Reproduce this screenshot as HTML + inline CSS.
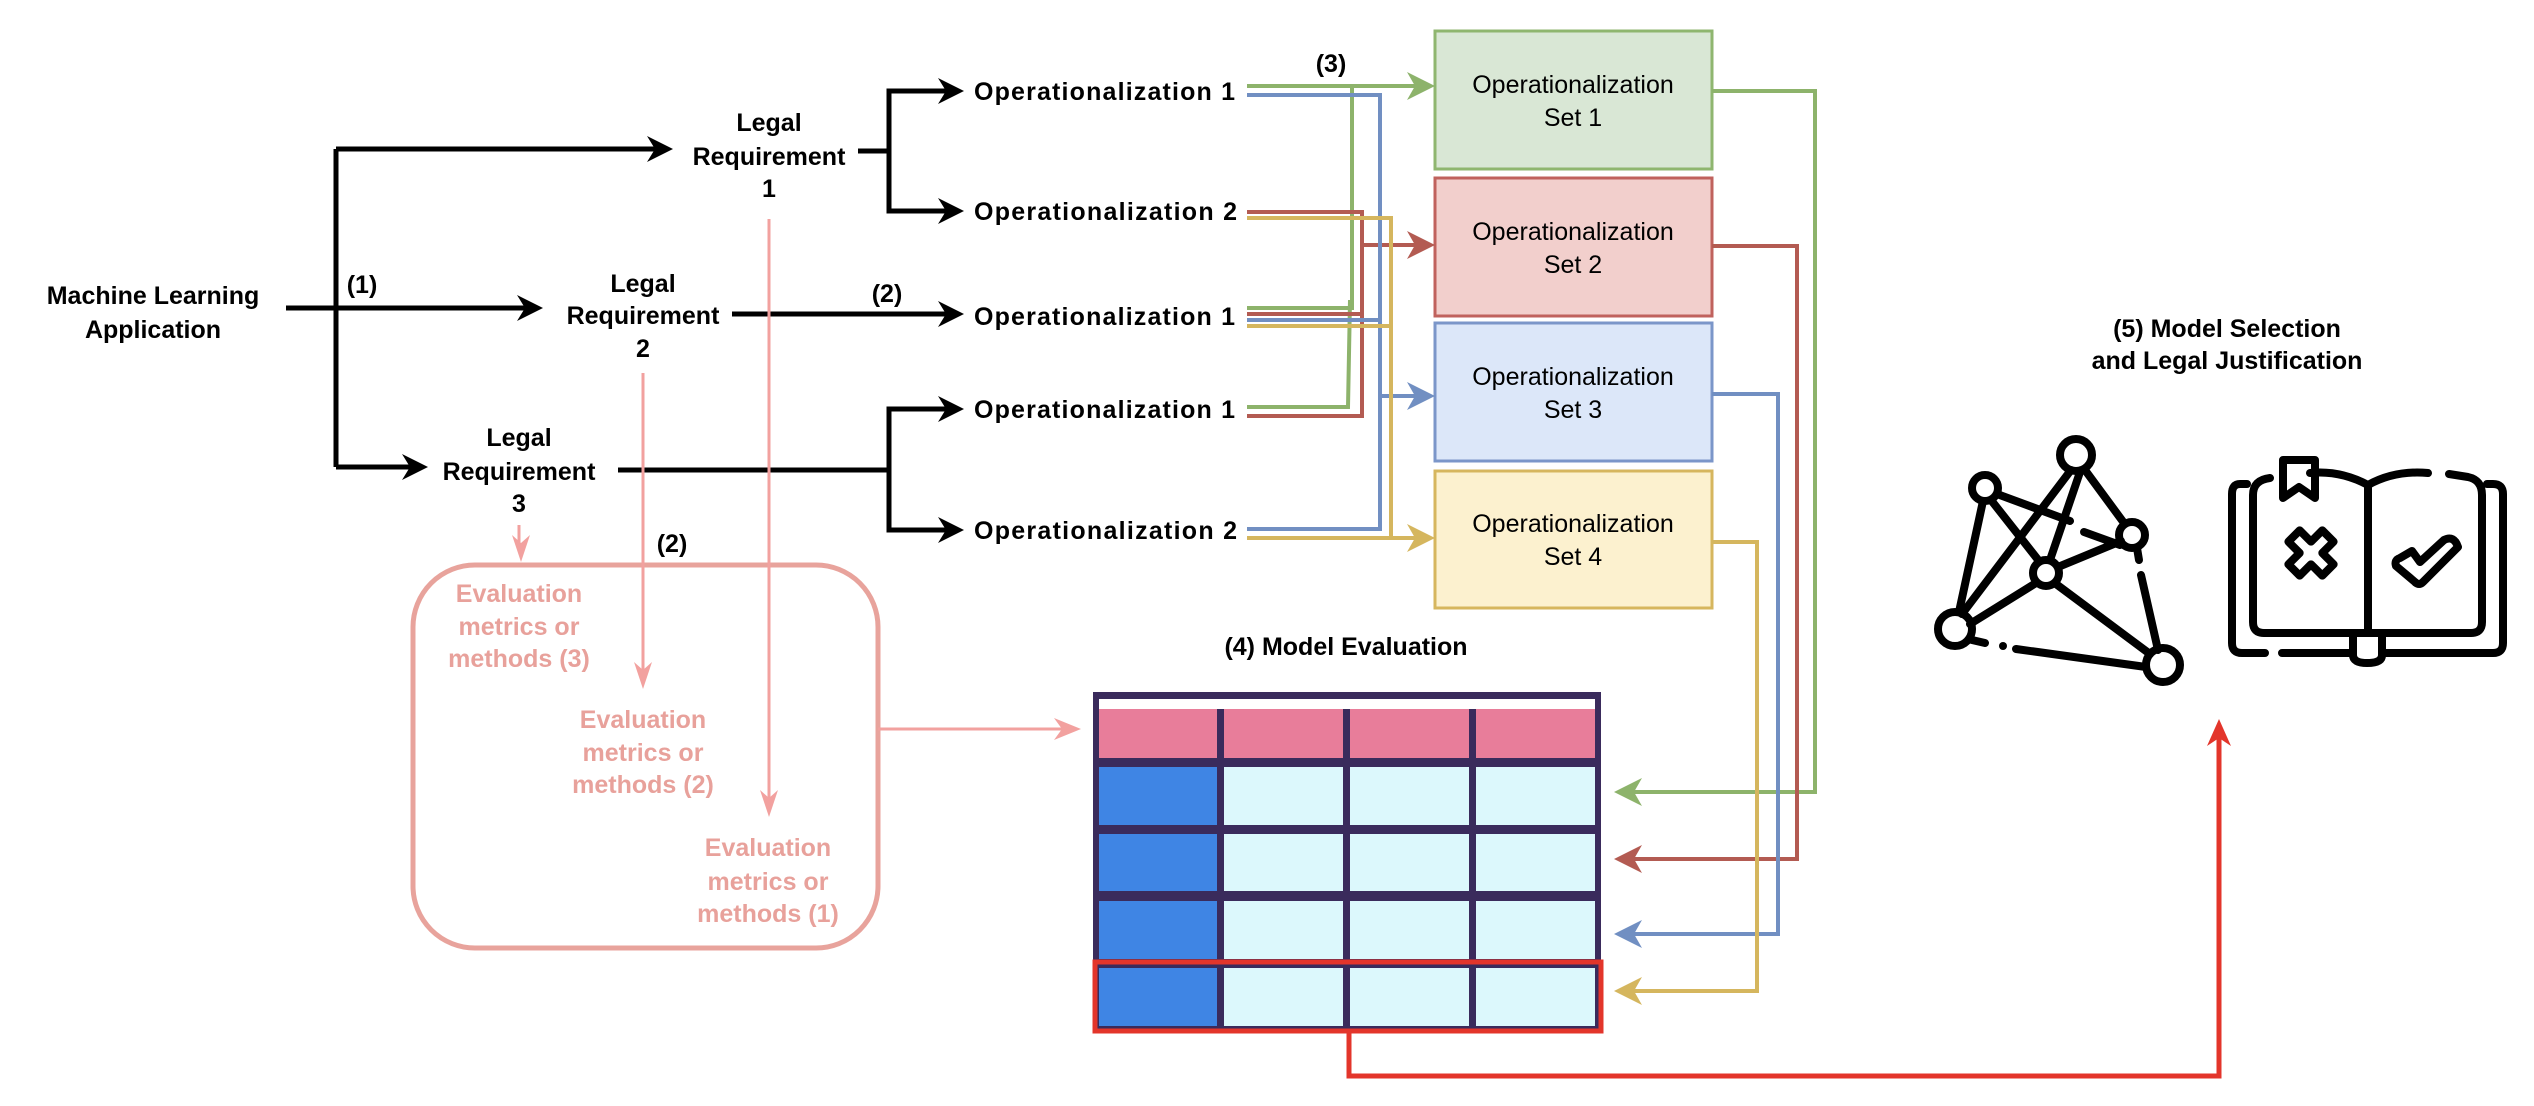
<!DOCTYPE html>
<html><head><meta charset="utf-8"><style>
html,body{margin:0;padding:0;background:#fff;}
svg{display:block;}
.b{font-family:"Liberation Sans",sans-serif;font-weight:bold;font-size:25px;fill:#000;}
.p{font-family:"Liberation Sans",sans-serif;font-weight:bold;font-size:25px;fill:#e8a19b;}
.r{font-family:"Liberation Sans",sans-serif;font-size:25px;fill:#000;}
</style></head><body>
<svg width="2534" height="1106" viewBox="0 0 2534 1106" xmlns="http://www.w3.org/2000/svg">
<rect width="2534" height="1106" fill="#fff"/>

<!-- black connectors -->
<g stroke="#000" stroke-width="5" fill="none">
<line x1="286" y1="308" x2="530" y2="308"/>
<polyline points="336,149 336,467"/>
<line x1="336" y1="149" x2="660" y2="149"/>
<line x1="336" y1="467" x2="415" y2="467"/>
<polyline points="858,151 889,151"/>
<polyline points="951,91 889,91 889,211 951,211"/>
<line x1="732" y1="314" x2="951" y2="314"/>
<line x1="618" y1="470" x2="889" y2="470"/>
<polyline points="951,409 889,409 889,530 951,530"/>
</g>
<g fill="#000">
<path d="M673,149 L647,136 L655,149 L647,162 Z"/>
<path d="M543,308 L517,295 L525,308 L517,321 Z"/>
<path d="M428,467 L402,454 L410,467 L402,480 Z"/>
<path d="M964,91 L938,78 L946,91 L938,104 Z"/>
<path d="M964,211 L938,198 L946,211 L938,224 Z"/>
<path d="M964,314 L938,301 L946,314 L938,327 Z"/>
<path d="M964,409 L938,396 L946,409 L938,422 Z"/>
<path d="M964,530 L938,517 L946,530 L938,543 Z"/>
</g>

<!-- black labels -->
<text class="b" x="153" y="304" text-anchor="middle">Machine Learning</text>
<text class="b" x="153" y="338" text-anchor="middle">Application</text>
<text class="b" x="362" y="293" text-anchor="middle">(1)</text>
<text class="b" x="769" y="131" text-anchor="middle">Legal</text>
<text class="b" x="769" y="165" text-anchor="middle">Requirement</text>
<text class="b" x="769" y="197" text-anchor="middle">1</text>
<text class="b" x="643" y="292" text-anchor="middle">Legal</text>
<text class="b" x="643" y="324" text-anchor="middle">Requirement</text>
<text class="b" x="643" y="357" text-anchor="middle">2</text>
<text class="b" x="519" y="446" text-anchor="middle">Legal</text>
<text class="b" x="519" y="480" text-anchor="middle">Requirement</text>
<text class="b" x="519" y="512" text-anchor="middle">3</text>
<text class="b" x="887" y="302" text-anchor="middle">(2)</text>
<text class="b" x="672" y="552" text-anchor="middle">(2)</text>
<text class="b" x="1331" y="72" text-anchor="middle">(3)</text>
<text class="b" x="974" y="100" textLength="261">Operationalization 1</text>
<text class="b" x="974" y="220" textLength="263">Operationalization 2</text>
<text class="b" x="974" y="325" textLength="261">Operationalization 1</text>
<text class="b" x="974" y="418" textLength="261">Operationalization 1</text>
<text class="b" x="974" y="539" textLength="263">Operationalization 2</text>
<text class="b" x="1346" y="655" text-anchor="middle">(4) Model Evaluation</text>
<text class="b" x="2227" y="337" text-anchor="middle">(5) Model Selection</text>
<text class="b" x="2227" y="369" text-anchor="middle">and Legal Justification</text>

<!-- op sets -->
<rect x="1435" y="31" width="277" height="138" fill="#d9e7d5" stroke="#8fb66f" stroke-width="3"/>
<rect x="1435" y="178" width="277" height="138" fill="#f2cfcc" stroke="#c0625d" stroke-width="3"/>
<rect x="1435" y="323" width="277" height="138" fill="#dce7f9" stroke="#7b96c9" stroke-width="3"/>
<rect x="1435" y="471" width="277" height="137" fill="#fcf1cf" stroke="#d6b65e" stroke-width="3"/>
<text class="r" x="1573" y="93" text-anchor="middle">Operationalization</text><text class="r" x="1573" y="126" text-anchor="middle">Set 1</text>
<text class="r" x="1573" y="240" text-anchor="middle">Operationalization</text><text class="r" x="1573" y="273" text-anchor="middle">Set 2</text>
<text class="r" x="1573" y="385" text-anchor="middle">Operationalization</text><text class="r" x="1573" y="418" text-anchor="middle">Set 3</text>
<text class="r" x="1573" y="532" text-anchor="middle">Operationalization</text><text class="r" x="1573" y="565" text-anchor="middle">Set 4</text>

<!-- colored connectors -->
<g fill="none" stroke-width="4">
<g stroke="#8db36b">
<line x1="1247" y1="86" x2="1422" y2="86"/>
<polyline points="1352,86 1352,308 1247,308"/>
<polyline points="1350,300 1348,407 1247,407"/>
<polyline points="1712,91 1815,91 1815,792 1630,792"/>
</g>
<g stroke="#b35b52">
<polyline points="1247,212 1362,212 1362,416 1247,416"/>
<line x1="1362" y1="245" x2="1422" y2="245"/>
<line x1="1247" y1="314" x2="1362" y2="314"/>
<polyline points="1712,246 1797,246 1797,859 1630,859"/>
</g>
<g stroke="#718fc2">
<polyline points="1247,95 1380,95 1380,529 1247,529"/>
<line x1="1380" y1="396" x2="1422" y2="396"/>
<line x1="1247" y1="320" x2="1380" y2="320"/>
<polyline points="1712,394 1778,394 1778,934 1630,934"/>
</g>
<g stroke="#d5b65e">
<polyline points="1247,218 1391,218 1391,538 1247,538"/>
<line x1="1391" y1="538" x2="1422" y2="538"/>
<line x1="1247" y1="326" x2="1391" y2="326"/>
<polyline points="1712,542 1757,542 1757,991 1630,991"/>
</g>
</g>
<g>
<path d="M1435,86 L1407,72 L1415,86 L1407,100 Z" fill="#8db36b"/>
<path d="M1435,245 L1407,231 L1415,245 L1407,259 Z" fill="#b35b52"/>
<path d="M1435,396 L1407,382 L1415,396 L1407,410 Z" fill="#718fc2"/>
<path d="M1435,538 L1407,524 L1415,538 L1407,552 Z" fill="#d5b65e"/>
<path d="M1614,792 L1642,778 L1634,792 L1642,806 Z" fill="#8db36b"/>
<path d="M1614,859 L1642,845 L1634,859 L1642,873 Z" fill="#b35b52"/>
<path d="M1614,934 L1642,920 L1634,934 L1642,948 Z" fill="#718fc2"/>
<path d="M1614,991 L1642,977 L1634,991 L1642,1005 Z" fill="#d5b65e"/>
</g>

<!-- pink -->
<rect x="413" y="565" width="465" height="383" rx="62" ry="62" fill="none" stroke="#e8a39c" stroke-width="5"/>
<g stroke="#f2a19f" stroke-width="3" fill="none">
<line x1="769" y1="219" x2="769" y2="805"/>
<line x1="643" y1="373" x2="643" y2="677"/>
<line x1="519" y1="525" x2="519" y2="550"/>
<line x1="878" y1="729" x2="1065" y2="729"/>
</g>
<g fill="#f2a19f">
<path d="M769,817 L760,790 L769,798 L778,790 Z"/>
<path d="M643,689 L634,662 L643,670 L652,662 Z"/>
<path d="M521,562 L512,535 L521,543 L530,535 Z"/>
<path d="M1081,729 L1054,718 L1062,729 L1054,740 Z"/>
</g>
<text class="p" x="519" y="602" text-anchor="middle">Evaluation</text>
<text class="p" x="519" y="635" text-anchor="middle">metrics or</text>
<text class="p" x="519" y="667" text-anchor="middle">methods (3)</text>
<text class="p" x="643" y="728" text-anchor="middle">Evaluation</text>
<text class="p" x="643" y="761" text-anchor="middle">metrics or</text>
<text class="p" x="643" y="793" text-anchor="middle">methods (2)</text>
<text class="p" x="768" y="856" text-anchor="middle">Evaluation</text>
<text class="p" x="768" y="890" text-anchor="middle">metrics or</text>
<text class="p" x="768" y="922" text-anchor="middle">methods (1)</text>

<!-- table -->
<rect x="1093" y="692" width="508" height="341" fill="#3a2b5c"/>
<rect x="1099" y="699" width="496" height="10" fill="#fff"/>
<g fill="#e87d9a">
<rect x="1099" y="709" width="118" height="49"/><rect x="1224" y="709" width="119" height="49"/><rect x="1350" y="709" width="119" height="49"/><rect x="1476" y="709" width="119" height="49"/>
</g>
<g fill="#3f85e4">
<rect x="1099" y="767" width="118" height="58"/><rect x="1099" y="834" width="118" height="57"/><rect x="1099" y="901" width="118" height="58"/><rect x="1099" y="968" width="118" height="58"/>
</g>
<g fill="#dcf8fc">
<rect x="1224" y="767" width="119" height="58"/><rect x="1350" y="767" width="119" height="58"/><rect x="1476" y="767" width="119" height="58"/>
<rect x="1224" y="834" width="119" height="57"/><rect x="1350" y="834" width="119" height="57"/><rect x="1476" y="834" width="119" height="57"/>
<rect x="1224" y="901" width="119" height="58"/><rect x="1350" y="901" width="119" height="58"/><rect x="1476" y="901" width="119" height="58"/>
<rect x="1224" y="968" width="119" height="58"/><rect x="1350" y="968" width="119" height="58"/><rect x="1476" y="968" width="119" height="58"/>
</g>
<rect x="1095" y="962" width="506" height="69" fill="none" stroke="#e3352b" stroke-width="5"/>
<polyline points="1349,1033 1349,1076 2219,1076 2219,735" fill="none" stroke="#e3352b" stroke-width="5"/>
<path d="M2219,719 L2207,746 L2219,738 L2231,746 Z" fill="#e3352b"/>

<!-- network icon -->
<g stroke="#000" stroke-width="8" fill="none" stroke-linecap="round">
<line x1="2071" y1="470" x2="1962" y2="614"/>
<line x1="2080" y1="472" x2="2050" y2="560"/>
<line x1="2085" y1="470" x2="2124" y2="523"/>
<line x1="1983" y1="501" x2="1959" y2="612"/>
<line x1="1991" y1="500" x2="2039" y2="561"/>
<line x1="1997" y1="494" x2="2070" y2="521"/>
<line x1="2084" y1="532" x2="2120" y2="545"/>
<line x1="2058" y1="567" x2="2121" y2="541"/>
<line x1="2036" y1="583" x2="1970" y2="624"/>
<line x1="2056" y1="584" x2="2150" y2="654"/>
<line x1="2137" y1="548" x2="2139" y2="560"/>
<line x1="2141" y1="575" x2="2158" y2="650"/>
<line x1="1972" y1="640" x2="1985" y2="643"/>
<line x1="2016" y1="649" x2="2146" y2="667"/>
<circle cx="2076" cy="455" r="16"/>
<circle cx="1985" cy="488" r="13"/>
<circle cx="2132" cy="535" r="13"/>
<circle cx="2046" cy="573" r="13"/>
<circle cx="1955" cy="629" r="17"/>
<circle cx="2163" cy="665" r="17"/>
</g>
<circle cx="2003" cy="646" r="4" fill="#000"/>
<!-- book icon -->
<g stroke="#000" stroke-width="8" fill="none" stroke-linecap="round" stroke-linejoin="round">
<path d="M2247,484 L2240,484 Q2232,484 2232,494 L2232,643 Q2232,653 2242,653 L2265,653"/>
<path d="M2282,653 L2353,653 M2382,653 L2493,653 Q2503,653 2503,643 L2503,494 Q2503,484 2493,484 L2487,484"/>
<path d="M2368,485 Q2340,470 2310,473 M2270,478 Q2253,480 2253,495 L2253,622 Q2253,633 2264,633 L2471,633 Q2482,633 2482,622 L2482,495 Q2482,480 2468,477 L2449,474"/>
<path d="M2368,485 Q2395,470 2428,473"/>
<line x1="2368" y1="485" x2="2368" y2="633"/>
<path d="M2283,473 L2283,498 L2299,487 L2315,498 L2315,460 L2283,460 Z"/>
<path d="M2353,633 L2353,655 Q2353,663 2367,663 Q2382,663 2382,655 L2382,633"/>
<polygon transform="rotate(45 2311 553)" points="2303,529 2319,529 2319,545 2335,545 2335,561 2319,561 2319,577 2303,577 2303,561 2287,561 2287,545 2303,545"/>
<path d="M2400,558 L2412,551 L2420,562 L2444,540 Q2454,535 2458,547 L2423,582 Q2419,586 2415,582 L2396,566 Q2394,560 2400,558 Z"/>
</g>
</svg>
</body></html>
